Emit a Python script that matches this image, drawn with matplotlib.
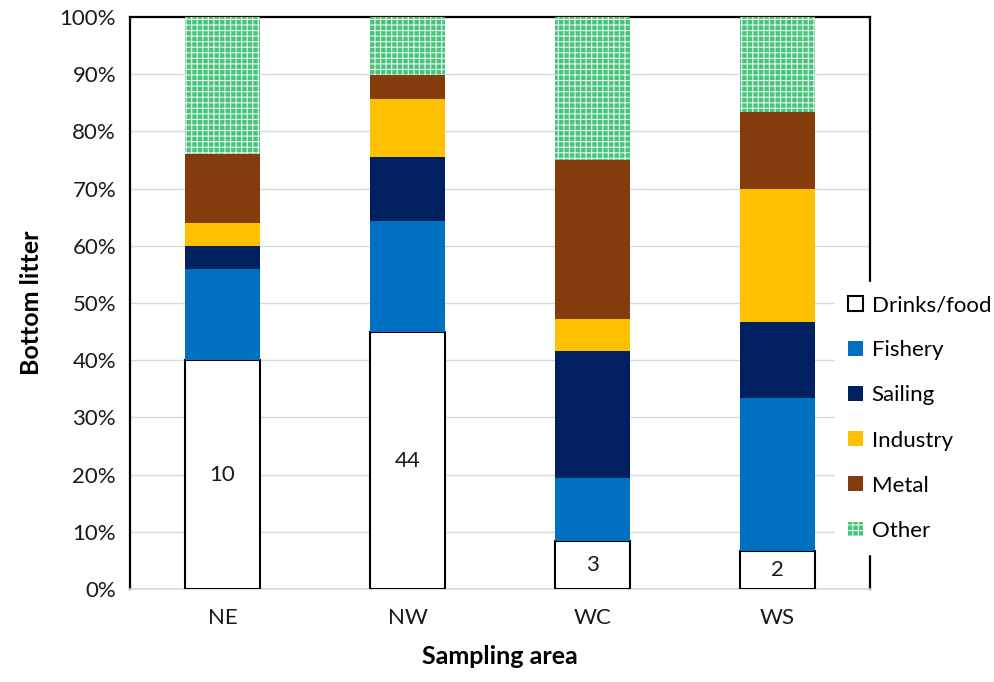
import numpy as np
import matplotlib.pyplot as plt
from matplotlib.ticker import PercentFormatter

plt.rcParams['font.family'] = ['Lato', 'DejaVu Sans']
plt.rcParams['hatch.linewidth'] = 0.8

areas = ['NE', 'NW', 'WC', 'WS']
categories = ['Drinks/food', 'Fishery', 'Sailing', 'Industry', 'Metal', 'Other']

# item counts per sampling area
drinks = [10, 44, 3, 2]
fishery = [4, 19, 4, 8]
sailing = [1, 11, 8, 4]
industry = [1, 10, 2, 7]
metal = [3, 4, 10, 4]
other = [6, 10, 9, 5]

counts = np.array([drinks, fishery, sailing, industry, metal, other], dtype=float)
shares = counts / counts.sum(axis=0) * 100

colors = ['white', '#0070C0', '#002060', '#FFC000', '#843C0C', '#45c47a']

fig = plt.figure(figsize=(9.95, 6.82), dpi=100)
ax = fig.add_axes([130 / 995, 1 - 589 / 682, 740 / 995, 572 / 682])

x = np.arange(len(areas))
width = 0.405
bottom = np.zeros(len(areas))
handles = []
for i, cat in enumerate(categories):
    if cat == 'Drinks/food':
        b = ax.bar(x, shares[i], width, bottom=bottom, color='white',
                   edgecolor='black', linewidth=1.5, label=cat, zorder=3)
    elif cat == 'Other':
        b = ax.bar(x, shares[i], width, bottom=bottom, color=colors[i],
                   edgecolor='#e8f8ee', hatch='+++', linewidth=0, label=cat, zorder=3)
    else:
        b = ax.bar(x, shares[i], width, bottom=bottom, color=colors[i],
                   linewidth=0, label=cat, zorder=3)
    handles.append(b)
    bottom += shares[i]

# drinks/food counts inside the white bars
for xi, n, s in zip(x, drinks, shares[0]):
    ax.text(xi, s / 2, str(n), ha='center', va='center', fontsize=16,
            color='#1a1a1a', zorder=4)

ax.set_xlim(-0.5, len(areas) - 0.5)
ax.set_ylim(0, 100)
ax.set_yticks(np.arange(0, 101, 10))
ax.yaxis.set_major_formatter(PercentFormatter(decimals=0))
ax.set_xticks(x)
ax.set_xticklabels(areas)
ax.tick_params(axis='both', length=0, labelsize=16, colors='#1a1a1a')
ax.tick_params(axis='x', pad=14)
ax.tick_params(axis='y', pad=10)
ax.grid(axis='y', color='#d9d9d9', linewidth=1, zorder=0)
ax.set_axisbelow(True)

for side in ['left', 'top', 'right']:
    ax.spines[side].set_color('black')
    ax.spines[side].set_linewidth(1.6)
ax.spines['bottom'].set_color('#d9d9d9')
ax.spines['bottom'].set_linewidth(1.2)

ax.set_ylabel('Bottom litter', fontsize=18, fontweight='bold', labelpad=12)
ax.set_xlabel('Sampling area', fontsize=18, fontweight='bold', labelpad=12)

leg = fig.legend(handles=handles, labels=categories, loc='center left',
                 bbox_to_anchor=(835 / 995, 1 - 418 / 682), frameon=True,
                 fontsize=16, handlelength=0.65, handleheight=0.65,
                 handletextpad=0.4, labelspacing=1.13, borderpad=0.6,
                 borderaxespad=0)
leg.get_frame().set_edgecolor('white')
leg.get_frame().set_facecolor('white')
leg.get_frame().set_alpha(1)

fig.savefig('out.png', dpi=100)
